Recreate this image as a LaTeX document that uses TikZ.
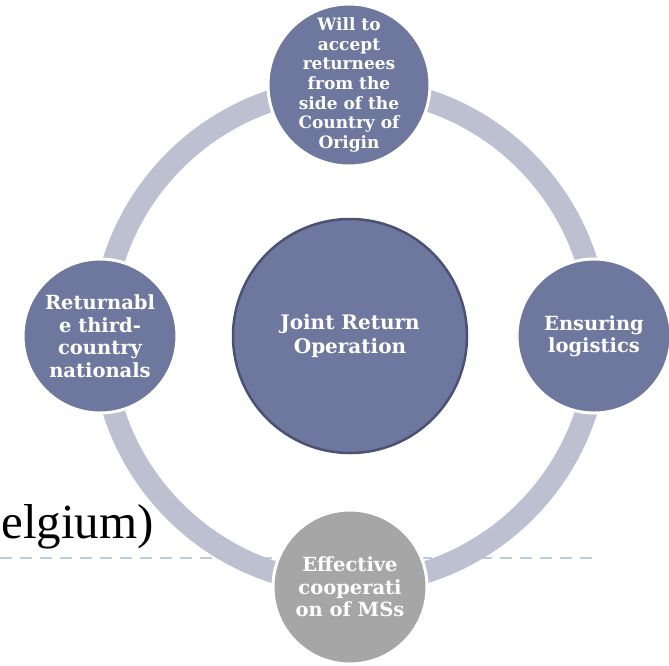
\documentclass[tikz,border=0pt]{standalone}
\usepackage{fontspec}
\setmainfont{Liberation Serif}
\newfontfamily\bookfont{DejaVu Serif}
\usepackage{tikz}
\usetikzlibrary{positioning}
\usepackage{xcolor}
\definecolor{ringgray}{HTML}{BCC0D0}
\definecolor{discblue}{HTML}{6E789F}
\definecolor{discedge}{HTML}{4A5175}
\definecolor{discgray}{HTML}{A6A6A6}
\definecolor{dashblue}{HTML}{BCCCDC}

\begin{document}
\begin{tikzpicture}[x=1pt, y=-1pt,
    disc/.style={circle, fill=discblue, draw=white, line width=3pt, minimum size=154pt,
      inner sep=-20pt, align=center, text=white,
      font=\bookfont\bfseries\fontsize{19.5}{22.5}\selectfont},
    hub/.style={disc, draw=discedge, line width=2.5pt, minimum size=234pt,
      font=\bookfont\bfseries\fontsize{20}{24}\selectfont},
  ]
    \useasboundingbox (0, 0) rectangle (669, 665);

    \coordinate (C) at (350, 336);
    \coordinate (T) at (349, 85);
    \coordinate (L) at (100, 336);
    \coordinate (R) at (594, 336);
    \coordinate (B) at (350, 587);

    % slide remains behind the cycle
    \node [anchor=base east, font=\fontsize{49}{56}\selectfont, text=black, inner sep=0pt] (title) at (154, 538) {elgium)};
    \coordinate (DashL) at (0, 558);
    \coordinate (DashR) at (595, 558);
    \draw [dashblue, line width=2pt, dash pattern=on 12pt off 8pt] (DashL) to (DashR);

    % ring
    \draw [ringgray, line width=22pt] (C) circle [radius=248];

    \node [hub] (JRO) at (C) {Joint Return\\Operation};

    \node [disc, minimum size=162pt, font=\bookfont\bfseries\fontsize{17}{19.7}\selectfont] (Will) at (T) {Will to\\accept\\returnees\\from the\\side of the\\Country of\\Origin};
    \node [disc] (Returnable) at (L) {Returnabl\\e third-\\country\\nationals};
    \node [disc] (Logistics) at (R) {Ensuring\\logistics};
    \node [disc, fill=discgray] (Coop) at (B) {Effective\\cooperati\\on of MSs};

  \end{tikzpicture}
\end{document}
